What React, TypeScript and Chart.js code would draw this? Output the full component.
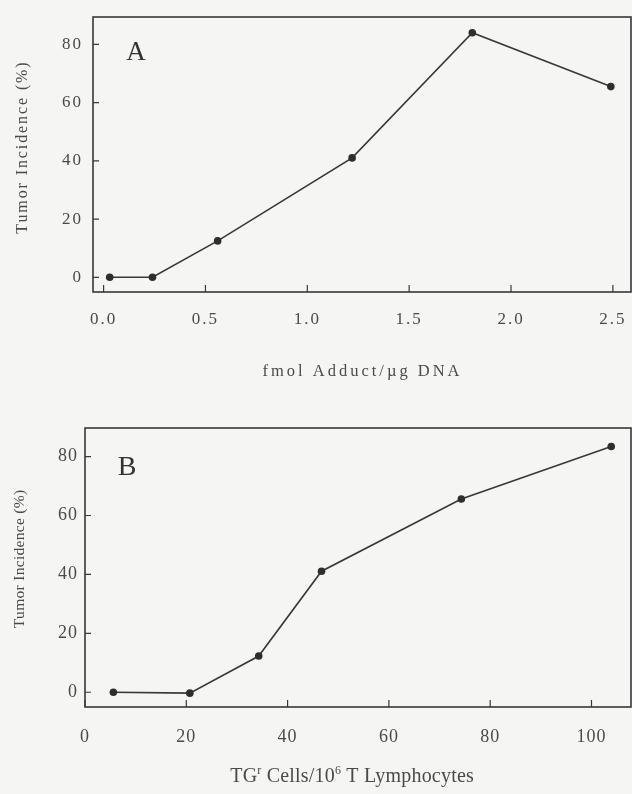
import { useEffect, useRef } from "react";
import { Chart, registerables } from "chart.js";
Chart.register(...registerables);

// ---- Data ----
const A_X = [0.03, 0.24, 0.56, 1.22, 1.81, 2.49];
const A_Y = [0, 0, 12.5, 41, 84, 65.5];
const A_X_TICKS = [0, 0.5, 1.0, 1.5, 2.0, 2.5];

const B_X = [5.6, 20.7, 34.3, 46.7, 74.3, 103.9];
const B_Y = [0, -0.3, 12.3, 41.1, 65.6, 83.4];
const B_X_TICKS = [0, 20, 40, 60, 80, 100];

const Y_TICKS = [0, 20, 40, 60, 80];

const Y_TITLE = "Tumor Incidence (%)";
const A_X_TITLE: [string, boolean][] = [["fmol Adduct/\u00b5g DNA", false]];
const B_X_TITLE: [string, boolean][] = [
  ["TG", false],
  ["r", true],
  [" Cells/10", false],
  ["6", true],
  [" T Lymphocytes", false],
];

const SERIF = "'Liberation Serif', 'Times New Roman', serif";
const BG = "#f5f5f3";
const INK = "#383838";
const TEXT = "#4a4a4a";

type Panel = {
  letter: string;
  xs: number[];
  ys: number[];
  xTicks: number[];
  dec: number;
  xMin: number;
  xMax: number;
  yMin: number;
  yMax: number;
  w: number;
  h: number;
  padTop: number;
  padRight: number;
  leftW: number;
  bottomH: number;
  tickSize: number;
  tickSpacing: number;
  yTickPad: number;
  xTickPad: number;
  letterX: number;
  letterY: number;
  letterSize: number;
  yTitleX: number;
  yTitleY: number;
  yTitleSize: number;
  yTitleSpacing: number;
  xTitle: [string, boolean][];
  xTitleX: number;
  xTitleY: number;
  xTitleSize: number;
  xTitleSpacing: number;
};

const PANEL_A: Panel = {
  letter: "A",
  xs: A_X,
  ys: A_Y,
  xTicks: A_X_TICKS,
  dec: 1,
  xMin: -0.052,
  xMax: 2.589,
  yMin: -5.05,
  yMax: 89.4,
  w: 632,
  h: 395,
  padTop: 17,
  padRight: 1,
  leftW: 93,
  bottomH: 103,
  tickSize: 17,
  tickSpacing: 2,
  yTickPad: 10,
  xTickPad: 17,
  letterX: 136,
  letterY: 60,
  letterSize: 27,
  yTitleX: 27,
  yTitleY: 148,
  yTitleSize: 16,
  yTitleSpacing: 1.9,
  xTitle: A_X_TITLE,
  xTitleX: 361,
  xTitleY: 376,
  xTitleSize: 16.5,
  xTitleSpacing: 3,
};

const PANEL_B: Panel = {
  letter: "B",
  xs: B_X,
  ys: B_Y,
  xTicks: B_X_TICKS,
  dec: 0,
  xMin: 0,
  xMax: 107.8,
  yMin: -5.0,
  yMax: 89.7,
  w: 632,
  h: 399,
  padTop: 33,
  padRight: 1,
  leftW: 85,
  bottomH: 87,
  tickSize: 18,
  tickSpacing: 1,
  yTickPad: 7,
  xTickPad: 19,
  letterX: 127,
  letterY: 79.5,
  letterSize: 28,
  yTitleX: 24,
  yTitleY: 164,
  yTitleSize: 15.5,
  yTitleSpacing: 0.3,
  xTitle: B_X_TITLE,
  xTitleX: 352,
  xTitleY: 387,
  xTitleSize: 20,
  xTitleSpacing: 0.2,
};

function drawParts(
  ctx: CanvasRenderingContext2D,
  parts: [string, boolean][],
  cx: number,
  baseY: number,
  size: number,
  spacing: number
) {
  const supSize = Math.round(size * 0.62);
  const widths = parts.map(([t, sup]) => {
    ctx.font = `${sup ? supSize : size}px ${SERIF}`;
    return ctx.measureText(t).width;
  });
  const total = widths.reduce((a, b) => a + b, 0) - spacing;
  let x = cx - total / 2;
  parts.forEach(([t, sup], i) => {
    ctx.font = `${sup ? supSize : size}px ${SERIF}`;
    ctx.fillText(t, x, sup ? baseY - size * 0.42 : baseY);
    x += widths[i];
  });
}

function makeDecor(p: Panel) {
  return {
    id: "decor",
    beforeDraw(chart: any) {
      const ctx = chart.ctx as CanvasRenderingContext2D;
      ctx.save();
      (ctx as any).letterSpacing = "0px";
      ctx.fillStyle = BG;
      ctx.fillRect(0, 0, chart.width, chart.height);
      ctx.restore();
      (ctx as any).letterSpacing = p.tickSpacing + "px";
    },
    afterDraw(chart: any) {
      const ctx = chart.ctx as CanvasRenderingContext2D;
      (ctx as any).letterSpacing = "0px";
      const { left, right, top, bottom } = chart.chartArea;
      ctx.save();
      ctx.strokeStyle = INK;
      ctx.lineWidth = 1.6;
      ctx.strokeRect(left, top, right - left, bottom - top);
      const xs = chart.scales.x;
      const ys = chart.scales.y;
      ctx.lineWidth = 1.2;
      ctx.beginPath();
      xs.ticks.forEach((t: any) => {
        const px = xs.getPixelForValue(t.value);
        ctx.moveTo(px, bottom);
        ctx.lineTo(px, bottom - 7);
      });
      ys.ticks.forEach((t: any) => {
        const py = ys.getPixelForValue(t.value);
        ctx.moveTo(left, py);
        ctx.lineTo(left + 6, py);
      });
      ctx.stroke();

      // panel letter
      ctx.fillStyle = "#333";
      ctx.textAlign = "center";
      ctx.textBaseline = "alphabetic";
      ctx.font = `${p.letterSize}px ${SERIF}`;
      ctx.fillText(p.letter, p.letterX, p.letterY);

      // x title
      ctx.fillStyle = TEXT;
      ctx.textAlign = "left";
      (ctx as any).letterSpacing = p.xTitleSpacing + "px";
      drawParts(ctx, p.xTitle, p.xTitleX, p.xTitleY, p.xTitleSize, p.xTitleSpacing);

      // y title (rotated)
      (ctx as any).letterSpacing = p.yTitleSpacing + "px";
      ctx.font = `${p.yTitleSize}px ${SERIF}`;
      const w = ctx.measureText(Y_TITLE).width - p.yTitleSpacing;
      ctx.translate(p.yTitleX, p.yTitleY);
      ctx.rotate(-Math.PI / 2);
      ctx.fillText(Y_TITLE, -w / 2, 0);
      ctx.restore();
      (ctx as any).letterSpacing = "0px";
    },
  };
}

function PanelChart({ p, top }: { p: Panel; top: number }) {
  const ref = useRef<HTMLCanvasElement>(null);
  useEffect(() => {
    if (!ref.current) return;
    const data = p.xs.map((x, i) => ({ x, y: p.ys[i] }));
    const chart = new Chart(ref.current, {
      type: "scatter",
      data: {
        datasets: [
          {
            data,
            showLine: true,
            borderColor: INK,
            borderWidth: 1.6,
            pointRadius: 3.8,
            pointBackgroundColor: "#2e2e2e",
            pointBorderColor: "#2e2e2e",
            pointBorderWidth: 0,
            tension: 0,
          },
        ],
      },
      options: {
        animation: false,
        responsive: false,
        maintainAspectRatio: false,
        layout: {
          autoPadding: false,
          padding: { top: p.padTop, right: p.padRight, left: 0, bottom: 0 },
        },
        plugins: { legend: { display: false }, tooltip: { enabled: false } },
        scales: {
          x: {
            type: "linear",
            min: p.xMin,
            max: p.xMax,
            afterBuildTicks: (s: any) => {
              s.ticks = p.xTicks.map((v) => ({ value: v }));
            },
            afterFit: (s: any) => {
              s.height = p.bottomH;
              s.paddingLeft = 0;
              s.paddingRight = 0;
            },
            grid: { display: false, drawTicks: false },
            border: { display: false },
            ticks: {
              padding: p.xTickPad,
              color: TEXT,
              autoSkip: false,
              maxRotation: 0,
              font: { family: SERIF, size: p.tickSize },
              callback: (v: any) => Number(v).toFixed(p.dec),
            },
          },
          y: {
            type: "linear",
            min: p.yMin,
            max: p.yMax,
            afterBuildTicks: (s: any) => {
              s.ticks = Y_TICKS.map((v) => ({ value: v }));
            },
            afterFit: (s: any) => {
              s.width = p.leftW;
              s.paddingTop = 0;
              s.paddingBottom = 0;
            },
            grid: { display: false, drawTicks: false },
            border: { display: false },
            ticks: {
              padding: p.yTickPad,
              color: TEXT,
              autoSkip: false,
              font: { family: SERIF, size: p.tickSize },
              callback: (v: any) => String(v),
            },
          },
        },
      },
      plugins: [makeDecor(p)],
    } as any);
    return () => chart.destroy();
  }, [p]);
  return (
    <canvas
      ref={ref}
      width={p.w}
      height={p.h}
      style={{ position: "absolute", left: 0, top, width: p.w, height: p.h, display: "block" }}
    />
  );
}

export default function App() {
  return (
    <div
      style={{
        position: "absolute",
        left: 0,
        top: 0,
        width: 632,
        height: 794,
        background: BG,
        overflow: "hidden",
      }}
    >
      <PanelChart p={PANEL_A} top={0} />
      <PanelChart p={PANEL_B} top={395} />
    </div>
  );
}
